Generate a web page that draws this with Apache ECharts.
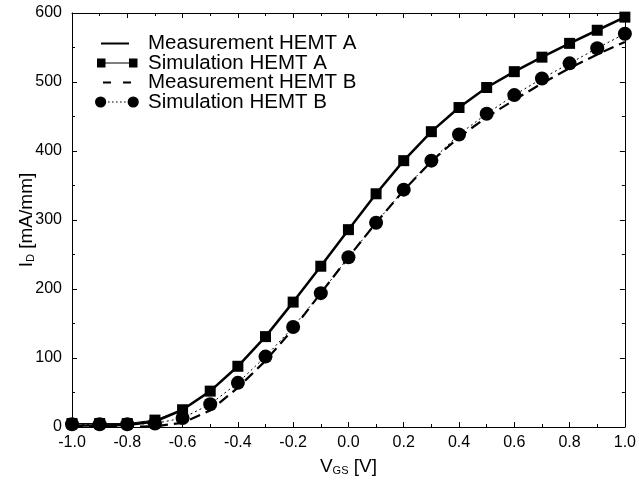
<!DOCTYPE html>
<html>
<head>
<meta charset="utf-8">
<script src="https://cdn.jsdelivr.net/npm/echarts@6/dist/echarts.min.js"></script>
<style>html,body{margin:0;padding:0;background:#fff}#c{width:639px;height:481px}</style>
</head>
<body>
<div id="c"></div>
<script>
const vgs = [-1.0,-0.9,-0.8,-0.7,-0.6,-0.5,-0.4,-0.3,-0.2,-0.1,0.0,0.1,0.2,0.3,0.4,0.5,0.6,0.7,0.8,0.9,1.0];
const measA = [2,2,3,8,25,52,88,131,181,233,286,338,386,428,463,492,515,536,556,575,594];
const simA  = [5,5,5,10,25,52,88,131,181,233,286,338,386,428,463,492,515,536,556,575,594];
const measB = [0,0,0,1,6,24,57,96,142,194,246,296,343,385,420,449,474,498,520,540,558];
const simB  = [4,4,4,5,13,33,64,102,145,194,246,296,344,386,424,454,481,505,527,549,570];
const names = ['Measurement HEMT A','Simulation HEMT A','Measurement HEMT B','Simulation HEMT B'];
const xTicks = {min:-1, max:1, step:0.2};
const yTicks = {min:0, max:600, step:100};

const pairs = arr => vgs.map((x,i)=>[x,arr[i]]);
const font = 'Liberation Sans, Arial, sans-serif';

// legend icon shapes (44 x 12 box; tiny corner squares pin the bounding box)
const box = 'M0,0h0.01v0.01h-0.01zM43.99,11.99h0.01v0.01h-0.01z';
const iconMeasA = 'path://' + box + 'M6,5h28v2h-28z';
const iconSimA  = 'path://' + box + 'M2,1.5h8.5v9h-8.5zM34,1.5h8.5v9h-8.5zM10,5.5h24v1h-24z';
const iconMeasB = 'path://' + box + 'M8,5h8v2h-8zM28,5h8v2h-8z';
const iconSimB  = 'path://' + box + 'M0,6a5.6,5.6 0 1,0 11.2,0a5.6,5.6 0 1,0 -11.2,0zM32.6,6a5.6,5.6 0 1,0 11.2,0a5.6,5.6 0 1,0 -11.2,0z'
                + 'M13,5.5h1.6v1h-1.6zM17,5.5h1.6v1h-1.6zM21,5.5h1.6v1h-1.6zM25,5.5h1.6v1h-1.6zM29,5.5h1.6v1h-1.6z';

const chart = echarts.init(document.getElementById('c'), null, {renderer:'canvas'});
const axisCommon = () => ({
  axisLine:{show:true, onZero:false, lineStyle:{color:'#000', width:1}},
  axisTick:{show:true, inside:true, length:5, lineStyle:{color:'#000'}},
  minorTick:{show:true, splitNumber:2, length:3, lineStyle:{color:'#000'}},
  splitLine:{show:false}
});
chart.setOption({
  animation:false,
  backgroundColor:'#fff',
  textStyle:{fontFamily:font, color:'#000'},
  grid:{left:72, right:13, top:13, bottom:51, containLabel:false},
  legend:{
    orient:'vertical', left:90, top:28, itemWidth:44, itemHeight:12, itemGap:-1.5, itemTextGap:9,
    symbolKeepAspect:true,
    textStyle:{fontFamily:font, fontSize:20.5, color:'#000', padding:[0,0,0,4]},
    data:[{name:names[0], icon:iconMeasA},{name:names[1], icon:iconSimA},
          {name:names[2], icon:iconMeasB},{name:names[3], icon:iconSimB}]
  },
  xAxis:[
    Object.assign({type:'value', min:xTicks.min, max:xTicks.max, interval:xTicks.step, position:'bottom',
      name:'{m|V}{s|GS}{m| [V]}', nameLocation:'middle', nameGap:30,
      nameTextStyle:{rich:{m:{fontSize:19, fontFamily:font, color:'#000'}, s:{fontSize:11, fontFamily:font, color:'#000', padding:[8,0,0,0]}}},
      axisLabel:{fontSize:16, color:'#000', fontFamily:font, margin:8, formatter:v=>v.toFixed(1)}}, axisCommon()),
    Object.assign({type:'value', min:xTicks.min, max:xTicks.max, interval:xTicks.step, position:'top',
      axisLabel:{show:false}}, axisCommon())
  ],
  yAxis:[
    Object.assign({type:'value', min:yTicks.min, max:yTicks.max, interval:yTicks.step, position:'left',
      name:'{m|I}{s|D}{m| [mA/mm]}', nameLocation:'middle', nameGap:36, nameMoveOverlap:false,
      nameTextStyle:{rich:{m:{fontSize:19, fontFamily:font, color:'#000'}, s:{fontSize:11, fontFamily:font, color:'#000', padding:[8,0,0,0]}}},
      axisLabel:{fontSize:16, color:'#000', fontFamily:font, margin:10}}, axisCommon()),
    Object.assign({type:'value', min:yTicks.min, max:yTicks.max, interval:yTicks.step, position:'right',
      axisLabel:{show:false}}, axisCommon())
  ],
  series:[
    {name:names[0], type:'line', data:pairs(measA), showSymbol:false, symbol:'none',
      lineStyle:{color:'#000', width:2.5, type:'solid'}, itemStyle:{color:'#000'}, z:2},
    {name:names[2], type:'line', data:pairs(measB), showSymbol:false, symbol:'none',
      lineStyle:{color:'#000', width:2.2, type:[11,6]}, itemStyle:{color:'#000'}, z:2},
    {name:names[1], type:'line', data:pairs(simA), symbol:'rect', symbolSize:11,
      lineStyle:{color:'#000', width:1, type:'solid'}, itemStyle:{color:'#000'}, z:3},
    {name:names[3], type:'line', data:pairs(simB), symbol:'circle', symbolSize:14,
      lineStyle:{color:'#000', width:1, type:[2,3]}, itemStyle:{color:'#000'}, z:3}
  ]
});
</script>
</body>
</html>
